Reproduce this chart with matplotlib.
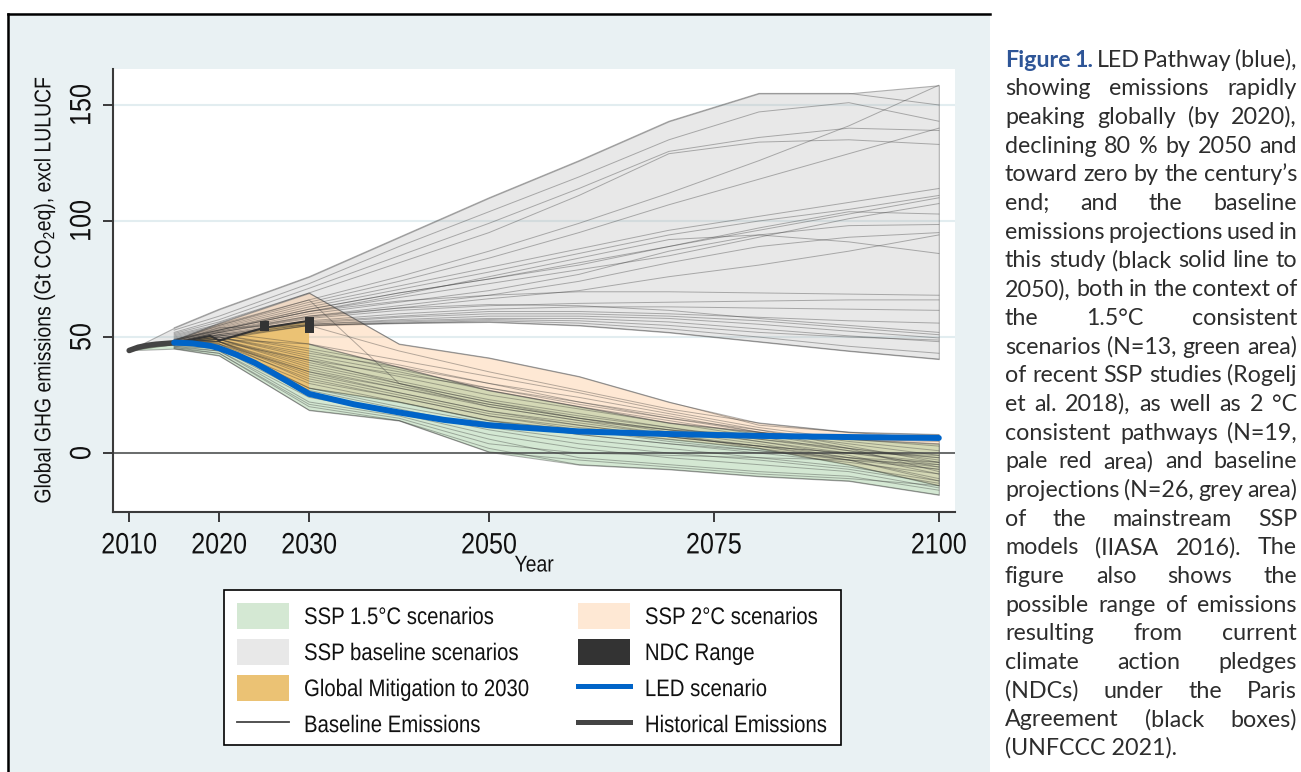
import numpy as np
import matplotlib
matplotlib.use("Agg")
import matplotlib.pyplot as plt
from matplotlib.patches import Patch, Rectangle
from matplotlib.lines import Line2D
from matplotlib.patheffects import AbstractPathEffect
from matplotlib.transforms import Affine2D
from matplotlib import font_manager as fm

# ---------------------------------------------------------------- data
years = [2010, 2015, 2020, 2030, 2040, 2050, 2060, 2070, 2080, 2090, 2100]

# SSP baseline scenarios (Gt CO2eq)
ssp_baseline = [
    [44.3, 54.0, 62.0, 76.0, 93.0, 110.0, 126.0, 143.0, 155.0, 155.0, 150.0],
    [44.3, 53.0, 59.0, 73.0, 89.0, 104.0, 119.0, 135.0, 147.0, 151.0, 143.0],
    [44.3, 52.0, 57.5, 71.0, 85.0, 99.0, 114.0, 130.0, 136.0, 140.0, 139.0],
    [44.3, 51.5, 56.5, 69.0, 82.0, 95.0, 111.0, 129.0, 134.0, 135.0, 133.0],
    [44.3, 51.0, 55.5, 66.0, 76.0, 87.0, 99.0, 112.0, 126.0, 141.0, 158.5],
    [44.3, 50.5, 55.0, 65.0, 74.0, 84.0, 95.0, 107.0, 118.0, 129.0, 140.0],
    [44.3, 50.0, 54.5, 64.0, 72.0, 80.0, 88.0, 96.0, 102.0, 108.0, 114.0],
    [44.3, 49.5, 54.0, 63.0, 70.5, 78.0, 86.0, 94.0, 100.0, 105.0, 111.0],
    [44.3, 49.0, 53.0, 62.0, 69.0, 75.0, 82.0, 89.0, 96.0, 103.0, 110.0],
    [44.3, 48.5, 53.0, 61.0, 67.0, 73.0, 79.0, 85.0, 93.0, 101.0, 107.5],
    [44.3, 49.0, 53.5, 62.0, 69.0, 75.0, 81.0, 89.0, 97.0, 104.0, 103.0],
    [44.3, 48.5, 52.5, 60.0, 65.0, 70.0, 77.0, 87.0, 94.0, 98.0, 98.5],
    [44.3, 48.0, 52.0, 59.0, 63.5, 68.0, 74.0, 82.0, 89.0, 93.0, 95.0],
    [44.3, 49.0, 53.0, 61.0, 68.0, 76.0, 84.0, 92.0, 94.0, 91.0, 86.0],
    [44.3, 48.0, 52.0, 58.5, 62.5, 66.5, 70.0, 76.0, 81.0, 87.0, 94.0],
    [44.3, 48.5, 53.0, 61.0, 65.5, 68.0, 69.5, 69.5, 69.0, 68.5, 68.0],
    [44.3, 48.0, 52.0, 58.0, 61.5, 63.5, 64.5, 65.0, 65.5, 66.0, 66.0],
    [44.3, 47.5, 51.5, 57.0, 60.0, 62.0, 63.0, 63.0, 62.5, 62.0, 61.5],
    [44.3, 47.5, 51.0, 56.5, 59.0, 61.0, 61.0, 60.0, 58.5, 57.0, 56.0],
    [44.3, 48.5, 52.5, 59.0, 62.5, 64.0, 63.5, 61.5, 58.0, 55.0, 52.0],
    [44.3, 47.5, 51.0, 56.0, 58.5, 60.0, 60.0, 59.0, 57.0, 54.0, 51.0],
    [44.3, 47.0, 50.5, 55.5, 57.5, 59.0, 59.0, 58.0, 55.5, 52.5, 49.6],
    [44.3, 47.0, 50.5, 55.5, 57.0, 58.0, 58.0, 56.5, 53.5, 50.5, 48.0],
    [44.3, 47.0, 50.0, 55.0, 56.5, 57.5, 57.0, 55.0, 52.0, 50.0, 48.7],
    [44.3, 47.0, 49.5, 55.0, 56.0, 57.0, 56.0, 53.5, 50.0, 46.0, 43.0],
    [44.3, 47.0, 49.0, 55.0, 56.0, 56.5, 55.0, 52.0, 48.0, 44.0, 40.5],
]

# SSP 2°C consistent pathways
ssp_2c = [
    [44.3, 48.5, 56.0, 69.0, 47.0, 41.0, 33.0, 22.0, 12.0, 9.0, 8.0],
    [44.3, 48.5, 55.0, 66.0, 30.0, 20.0, 14.0, 10.0, 8.0, 6.0, 5.0],
    [44.3, 48.0, 54.0, 55.0, 44.0, 35.0, 27.0, 19.0, 13.0, 9.0, 6.0],
    [44.3, 47.5, 52.0, 47.0, 40.0, 33.0, 26.0, 18.0, 11.0, 6.0, 3.0],
    [44.3, 47.5, 51.0, 45.0, 38.0, 30.0, 22.0, 15.0, 10.0, 5.0, 1.0],
    [44.3, 47.5, 51.0, 44.0, 36.0, 28.0, 21.0, 15.0, 9.0, 4.0, -1.0],
    [44.3, 47.5, 50.0, 43.0, 37.0, 30.0, 24.0, 17.0, 10.0, 3.0, -4.0],
    [44.3, 47.5, 50.0, 42.0, 35.0, 27.0, 20.0, 14.0, 8.0, 2.0, -3.0],
    [44.3, 47.5, 50.0, 41.0, 33.0, 25.0, 19.0, 13.0, 7.0, 1.0, -6.0],
    [44.3, 47.5, 49.0, 40.0, 34.0, 28.0, 22.0, 16.0, 9.0, 2.0, -8.0],
    [44.3, 47.5, 49.0, 39.0, 31.0, 23.0, 17.0, 11.0, 5.0, 0.0, -5.0],
    [44.3, 47.5, 49.0, 38.0, 30.0, 22.0, 16.0, 11.0, 6.0, 1.0, -2.0],
    [44.3, 47.5, 49.0, 37.0, 29.0, 21.0, 15.0, 10.0, 5.0, -1.0, -9.0],
    [44.3, 47.5, 48.0, 36.0, 28.0, 20.0, 14.0, 8.0, 3.0, -3.0, -11.0],
    [44.3, 47.5, 48.0, 35.0, 28.0, 21.0, 15.0, 9.0, 4.0, -2.0, -7.0],
    [44.3, 47.5, 48.0, 34.0, 26.0, 18.0, 13.0, 8.0, 2.0, -5.0, -14.0],
    [44.3, 47.5, 48.0, 33.0, 25.0, 17.0, 12.0, 7.0, 3.0, -2.0, -4.0],
    [44.3, 47.5, 48.0, 31.0, 24.0, 16.0, 11.0, 7.0, 3.0, 0.0, -1.0],
    [44.3, 47.0, 47.0, 28.0, 22.0, 14.0, 10.0, 6.0, 2.0, -3.0, -12.0],
]

# SSP 1.5°C consistent scenarios
ssp_15c = [
    [44.3, 48.0, 49.0, 47.0, 37.0, 27.0, 20.0, 13.0, 9.0, 6.0, 4.0],
    [44.3, 47.5, 48.0, 40.0, 30.0, 22.0, 15.0, 10.0, 6.0, 2.0, -2.0],
    [44.3, 47.5, 47.0, 35.0, 26.0, 18.0, 12.0, 7.0, 3.0, 0.0, -4.0],
    [44.3, 47.0, 47.0, 32.0, 24.0, 16.0, 10.0, 5.0, 1.0, -3.0, -7.0],
    [44.3, 47.0, 46.0, 30.0, 22.0, 14.0, 8.0, 4.0, 0.0, -4.0, -9.0],
    [44.3, 46.5, 46.0, 28.0, 20.0, 13.0, 8.0, 4.0, 1.0, -2.0, -6.0],
    [44.3, 46.5, 45.0, 27.0, 19.0, 11.0, 6.0, 2.0, -2.0, -6.0, -12.0],
    [44.3, 46.0, 45.0, 25.0, 18.0, 10.0, 4.0, 0.0, -3.0, -7.0, -13.0],
    [44.3, 46.0, 44.0, 24.0, 17.0, 8.0, 2.0, -2.0, -5.0, -8.0, -15.0],
    [44.3, 45.5, 44.0, 22.0, 16.0, 6.0, -2.0, -5.0, -8.0, -10.0, -16.0],
    [44.3, 45.5, 43.0, 21.0, 15.0, 4.0, 0.0, -1.0, -2.0, -3.0, -5.0],
    [44.3, 45.0, 43.0, 20.0, 14.0, 2.0, -5.0, -7.0, -10.0, -12.0, -18.0],
    [44.3, 45.0, 42.0, 18.5, 14.0, 0.5, -3.0, -6.0, -9.0, -11.0, -14.0],
]

# Historical emissions
hist_years = [2010, 2011, 2012, 2013, 2014, 2015]
hist_vals = [44.2, 45.6, 46.4, 46.9, 47.2, 47.5]

# Baseline emissions used in the study
base_em_years = [2015, 2019, 2020, 2025, 2030]
base_em_vals = [47.5, 50.5, 48.5, 54.0, 57.0]

# NDC range boxes
ndc_years = [2025, 2030]
ndc_low = [52.8, 51.7]
ndc_high = [57.0, 58.6]

# LED pathway
led_years = [2015, 2017, 2019, 2020, 2022, 2024, 2026, 2028, 2030, 2035,
             2040, 2045, 2050, 2060, 2070, 2080, 2090, 2100]
led_vals = [47.6, 47.3, 46.2, 45.2, 42.3, 38.8, 34.5, 30.0, 25.5, 21.0,
            17.5, 14.3, 12.0, 9.3, 8.2, 7.4, 6.9, 6.5]

xticks = [2010, 2020, 2030, 2050, 2075, 2100]
yticks = [0, 50, 100, 150]

legend_labels = ["SSP 1.5°C scenarios", "SSP baseline scenarios",
                 "Global Mitigation to 2030", "Baseline Emissions",
                 "SSP 2°C scenarios", "NDC Range", "LED scenario",
                 "Historical Emissions"]

ylabel_text = r"Global GHG emissions (Gt CO$_\mathregular{2}$eq), excl LULUCF"

caption_lines = [
    "Figure 1. LED Pathway (blue),",
    "showing emissions rapidly",
    "peaking globally (by 2020),",
    "declining 80 % by 2050 and",
    "toward zero by the century\u2019s",
    "end; and the baseline",
    "emissions projections used in",
    "this study (black solid line to",
    "2050), both in the context of",
    "the 1.5°C consistent",
    "scenarios (N=13, green area)",
    "of recent SSP studies (Rogelj",
    "et al. 2018), as well as 2 °C",
    "consistent pathways (N=19,",
    "pale red area) and baseline",
    "projections (N=26, grey area)",
    "of the mainstream SSP",
    "models (IIASA 2016). The",
    "figure also shows the",
    "possible range of emissions",
    "resulting from current",
    "climate action pledges",
    "(NDCs) under the Paris",
    "Agreement (black boxes)",
    "(UNFCCC 2021).",
]

# ---------------------------------------------------------------- fonts
available = {f.name for f in fm.fontManager.ttflist}
chart_font = "Liberation Sans" if "Liberation Sans" in available else "DejaVu Sans"
caption_font = "Lato" if "Lato" in available else "DejaVu Sans"
plt.rcParams["font.family"] = [chart_font, "DejaVu Sans"]
plt.rcParams["mathtext.fontset"] = "custom"
plt.rcParams["mathtext.rm"] = chart_font


class Narrow(AbstractPathEffect):
    """Draw text glyphs horizontally condensed (narrow face look)."""

    def __init__(self, sx=0.85, anchor="center"):
        super().__init__()
        self.sx = sx
        self.anchor = anchor

    def draw_path(self, renderer, gc, tpath, affine, rgbFace=None):
        ext = tpath.get_extents()
        cx = 0.5 * (ext.x0 + ext.x1) if self.anchor == "center" else 0.0
        squeeze = Affine2D().translate(-cx, 0).scale(self.sx, 1.0).translate(cx, 0)
        renderer.draw_path(gc, tpath, squeeze + affine, rgbFace)


SQ = 0.85

# ---------------------------------------------------------------- colours
c_green = (0.45, 0.71, 0.44, 0.30)
c_peach = (0.99, 0.70, 0.45, 0.30)
c_grey = (0.70, 0.70, 0.70, 0.30)
c_edge = (0.35, 0.35, 0.35, 0.45)
c_orange = "#EBC274"
c_ndc = "#333333"
c_led = "#0064C8"
c_hist = "#444444"
panel_bg = "#E9F1F3"

W, H = 1301, 772
fig = plt.figure(figsize=(W / 100, H / 100), dpi=100, facecolor="white")
renderer = fig.canvas.get_renderer()


def text_width(s, size, family, weight="normal"):
    t = fig.text(0, 0, s, fontsize=size, family=family, fontweight=weight)
    w = t.get_window_extent(renderer=renderer).width
    t.remove()
    return w


def size_for(s, px, family):
    return 10.0 * px / text_width(s, 10.0, family)


tick_size = size_for("2010", 56 / SQ, chart_font)
legend_size = size_for("Global Mitigation to 2030", 226 / SQ, chart_font)
label_size = size_for(ylabel_text, 428 / SQ, chart_font)

# panel behind the chart
fig.patches.append(Rectangle((7 / W, 0), (990 - 7) / W, 1 - 13 / H,
                             transform=fig.transFigure, facecolor=panel_bg,
                             edgecolor="none", zorder=-5))
fig.add_artist(Line2D([8 / W, 8 / W], [0, 1 - 14 / H], color="black", lw=1.8,
                      transform=fig.transFigure))
fig.add_artist(Line2D([8 / W, 990 / W], [1 - 14 / H, 1 - 14 / H], color="black",
                      lw=1.8, transform=fig.transFigure))

ax = fig.add_axes([113 / W, 1 - 512 / H, 842 / W, 443 / H])
ax.set_facecolor("white")
ax.set_xlim(2008.2, 2101.8)
ax.set_ylim(-25.4, 165.5)

yrs = np.array(years)
groups = [
    (np.array(ssp_baseline), c_grey),
    (np.array(ssp_2c), c_peach),
    (np.array(ssp_15c), c_green),
]

# envelopes
for arr, col in groups:
    ax.fill_between(yrs, arr.min(axis=0), arr.max(axis=0), facecolor=col,
                    edgecolor=c_edge, lw=0.8, zorder=2)

ax.axhline(0, color="#555555", lw=1.2, zorder=2.5)

# mitigation wedge between the baseline emissions and the LED pathway
led_y = np.array(led_years)
led_v = np.array(led_vals)
sel = led_y <= 2030
poly_x = list(base_em_years) + list(led_y[sel][::-1])
poly_y = list(base_em_vals) + list(led_v[sel][::-1])
ax.fill(poly_x, poly_y, color=c_orange, lw=0, zorder=3)

# individual scenario lines
for arr, _ in groups:
    for row in arr:
        ax.plot(yrs[1:], row[1:], color="#333333", alpha=0.36, lw=0.7, zorder=4)

ax.plot(base_em_years, base_em_vals, color="#333333", lw=1.5, zorder=5)
ax.bar(ndc_years, np.array(ndc_high) - np.array(ndc_low), bottom=ndc_low,
       width=1.0, color=c_ndc, zorder=6)
ax.plot(hist_years, hist_vals, color=c_hist, lw=4.0, solid_capstyle="round", zorder=6)
ax.plot(led_years, led_vals, color=c_led, lw=4.3, solid_capstyle="round",
        solid_joinstyle="round", zorder=7)

# axes styling
ax.set_xticks(xticks)
ax.set_yticks(yticks)
ax.set_axisbelow(True)
ax.yaxis.grid(True, color="#E2EDF0", lw=1.5)
for s in ("top", "right"):
    ax.spines[s].set_visible(False)
for s in ("left", "bottom"):
    ax.spines[s].set_color("#3A3A3A")
    ax.spines[s].set_linewidth(1.5)
ax.tick_params(direction="out", length=7, width=1.4, color="#3A3A3A",
               labelsize=tick_size, labelcolor="#111111", pad=6)
ax.tick_params(axis="x", pad=7)
ax.tick_params(axis="y", labelrotation=90, pad=5)
for lab in ax.get_yticklabels():
    lab.set_va("center")
for lab in ax.get_xticklabels() + ax.get_yticklabels():
    lab.set_path_effects([Narrow(SQ)])

ax.set_ylabel(ylabel_text, fontsize=label_size, color="#111111")
ax.yaxis.set_label_coords((44 - 113) / 842, 0.5)
ax.yaxis.label.set_va("center")
ax.yaxis.label.set_path_effects([Narrow(SQ)])
ax.text(0.5, (512 - 565) / 443, "Year", transform=ax.transAxes, ha="center",
        va="center", fontsize=label_size, color="#111111",
        path_effects=[Narrow(SQ)])

# legend: frame drawn separately so it hugs the condensed labels
fig.patches.append(Rectangle((224 / W, 1 - 745 / H), (841 - 224) / W, (745 - 590) / H,
                             transform=fig.transFigure, facecolor="white",
                             edgecolor="black", lw=1.2, zorder=-1))
handles = [
    Patch(facecolor=c_green, edgecolor="none"),
    Patch(facecolor=c_grey, edgecolor="none"),
    Patch(facecolor=c_orange, edgecolor="none"),
    Line2D([], [], color="#444444", lw=1.3),
    Patch(facecolor=c_peach, edgecolor="none"),
    Patch(facecolor=c_ndc, edgecolor="none"),
    Line2D([], [], color=c_led, lw=3.6),
    Line2D([], [], color=c_hist, lw=3.6),
]
leg_px = legend_size * 100 / 72
col1_extra = (1 - SQ) * max(text_width(s, legend_size, chart_font) for s in legend_labels[:4])
hh = (26 / leg_px - 0.245) / 0.65
leg = fig.legend(handles, legend_labels, loc="upper left",
                 bbox_to_anchor=(237 / W, 1 - 603 / H), bbox_transform=fig.transFigure,
                 ncol=2, frameon=False, fontsize=legend_size,
                 handlelength=52 / leg_px, handleheight=hh, handletextpad=15 / leg_px,
                 columnspacing=(48 - col1_extra) / leg_px, labelspacing=10 / leg_px,
                 borderpad=0, borderaxespad=0)
for t in leg.get_texts():
    t.set_path_effects([Narrow(SQ, anchor="left")])
    t.set_color("#111111")

# ---------------------------------------------------------------- caption
def words_of(i, line):
    ws = line.split(" ")
    if i == 0:
        return [(w, j < 2) for j, w in enumerate(ws)]
    return [(w, False) for w in ws]


left_px, right_px = 1005, 1297
box_w = right_px - left_px
probe = 14.0
space_probe = 0.55 * (text_width("x x", probe, caption_font)
                      - text_width("xx", probe, caption_font))
natural = []
for i, line in enumerate(caption_lines[:-1]):
    ws = words_of(i, line)
    tot = sum(text_width(w, probe, caption_font, "bold" if b else "normal")
              for w, b in ws)
    natural.append(tot + space_probe * (len(ws) - 1))
cap_size = probe * box_w / max(natural)

base0, step = 66.7, 28.68
for i, line in enumerate(caption_lines):
    y = 1 - (base0 + i * step) / H
    if i == len(caption_lines) - 1:
        fig.text(left_px / W, y, line, fontsize=cap_size, family=caption_font,
                 color="#2D2D2D", va="baseline", ha="left")
        continue
    ws = words_of(i, line)
    widths = [text_width(w, cap_size, caption_font, "bold" if b else "normal")
              for w, b in ws]
    gap = (box_w - sum(widths)) / (len(ws) - 1)
    x = left_px
    for (w, b), wd in zip(ws, widths):
        fig.text(x / W, y, w, fontsize=cap_size, family=caption_font,
                 fontweight="bold" if b else "normal",
                 color="#2E5597" if b else "#2D2D2D", va="baseline", ha="left")
        x += wd + gap

fig.savefig("out.png", dpi=100, facecolor="white")
